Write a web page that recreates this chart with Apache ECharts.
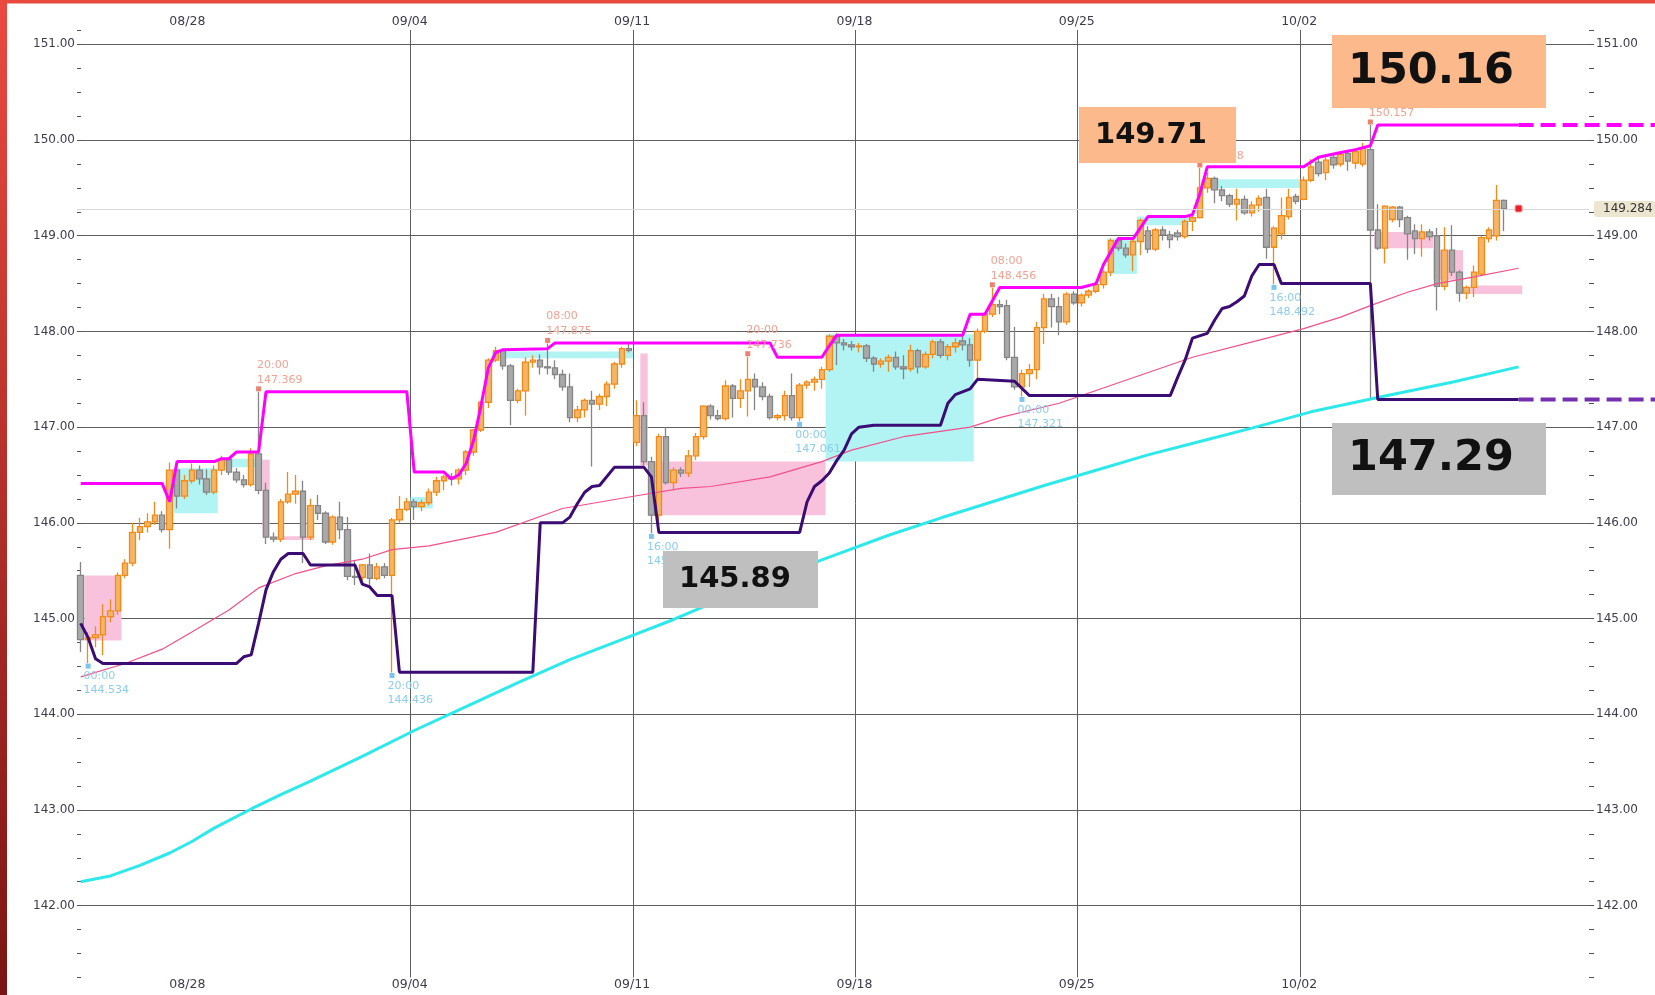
<!DOCTYPE html>
<html>
<head>
<meta charset="utf-8">
<title>USD/JPY 4時間足</title>
<script src="https://cdn.jsdelivr.net/npm/echarts@6.0.0/dist/echarts.min.js"></script>
<style>
  html, body { margin: 0; padding: 0; background: #fff; }
  #main { width: 1655px; height: 995px; }
</style>
</head>
<body>
<div id="main"></div>
<script>
// 4時間足 [始値, 終値, 安値, 高値]
const wk0823 = [
  [145.45, 144.78, 144.65, 145.59], [144.78, 144.80, 144.534, 144.86], [144.80, 144.83, 144.70, 144.92],
  [144.83, 145.02, 144.62, 145.15], [145.02, 145.08, 144.96, 145.20], [145.08, 145.45, 145.04, 145.48],
  [145.45, 145.58, 145.42, 145.62], [145.58, 145.90, 145.55, 146.00], [145.90, 145.96, 145.82, 146.05],
  [145.96, 146.01, 145.90, 146.10], [146.01, 146.08, 145.98, 146.22], [146.08, 145.93, 145.90, 146.12],
  [145.93, 146.55, 145.73, 146.63], [146.55, 146.28, 146.15, 146.58], [146.28, 146.44, 146.25, 146.50]
];
const wk0828 = [
  [146.44, 146.55, 146.41, 146.62], [146.55, 146.46, 146.40, 146.60], [146.46, 146.32, 146.29, 146.56],
  [146.32, 146.55, 146.30, 146.60], [146.55, 146.66, 146.50, 146.70], [146.66, 146.53, 146.50, 146.68],
  [146.53, 146.45, 146.42, 146.57], [146.45, 146.40, 146.37, 146.50], [146.40, 146.72, 146.38, 146.78],
  [146.72, 146.34, 146.30, 147.369], [146.34, 145.85, 145.78, 146.42], [145.85, 145.83, 145.80, 145.90],
  [145.83, 146.22, 145.80, 146.25], [146.22, 146.30, 146.20, 146.53], [146.30, 146.33, 146.20, 146.50],
  [146.33, 145.85, 145.58, 146.44], [145.85, 146.18, 145.82, 146.25], [146.18, 146.10, 146.03, 146.29],
  [146.10, 145.80, 145.78, 146.12], [145.80, 146.06, 145.77, 146.08], [146.06, 145.93, 145.83, 146.22],
  [145.93, 145.44, 145.40, 146.06], [145.44, 145.43, 145.35, 145.60], [145.43, 145.56, 145.40, 145.57],
  [145.56, 145.42, 145.33, 145.68], [145.42, 145.54, 145.40, 145.58], [145.54, 145.45, 145.42, 145.58],
  [145.45, 146.03, 144.436, 146.05], [146.03, 146.14, 146.00, 146.28], [146.14, 146.22, 146.12, 146.26]
];
const wk0904 = [
  [146.22, 146.17, 146.03, 146.25], [146.17, 146.21, 146.12, 146.24], [146.21, 146.32, 146.18, 146.36],
  [146.32, 146.44, 146.28, 146.48], [146.44, 146.48, 146.34, 146.50], [146.48, 146.46, 146.39, 146.52],
  [146.46, 146.55, 146.40, 146.57], [146.55, 146.74, 146.50, 146.76], [146.74, 146.97, 146.70, 146.98],
  [146.97, 147.26, 146.95, 147.27], [147.26, 147.70, 147.20, 147.72], [147.70, 147.80, 147.68, 147.84],
  [147.80, 147.64, 147.60, 147.82], [147.64, 147.28, 147.02, 147.66], [147.28, 147.38, 147.25, 147.40],
  [147.38, 147.68, 147.12, 147.73], [147.68, 147.70, 147.62, 147.75], [147.70, 147.63, 147.55, 147.76],
  [147.63, 147.62, 147.55, 147.875], [147.62, 147.55, 147.50, 147.70], [147.55, 147.42, 147.38, 147.60],
  [147.42, 147.10, 147.05, 147.56], [147.10, 147.18, 147.05, 147.22], [147.18, 147.28, 147.10, 147.30],
  [147.28, 147.24, 146.59, 147.38], [147.24, 147.32, 147.18, 147.35], [147.32, 147.45, 147.22, 147.48],
  [147.45, 147.66, 147.40, 147.68], [147.66, 147.82, 147.62, 147.84], [147.82, 147.80, 147.78, 147.87]
];
const wk0911 = [
  [146.84, 147.12, 146.80, 147.28], [147.12, 146.64, 146.60, 147.26], [146.64, 146.08, 145.89, 146.69],
  [146.08, 146.90, 145.98, 146.93], [146.90, 146.42, 146.40, 147.00], [146.42, 146.55, 146.34, 146.58],
  [146.55, 146.52, 146.48, 146.58], [146.52, 146.70, 146.48, 146.76], [146.70, 146.90, 146.66, 146.94],
  [146.90, 147.22, 146.87, 147.23], [147.22, 147.12, 147.08, 147.24], [147.12, 147.09, 147.07, 147.18],
  [147.09, 147.43, 147.07, 147.49], [147.43, 147.30, 147.10, 147.45], [147.30, 147.38, 147.20, 147.50],
  [147.38, 147.50, 147.11, 147.736], [147.50, 147.42, 147.18, 147.56], [147.42, 147.32, 147.28, 147.47],
  [147.32, 147.10, 147.08, 147.35], [147.10, 147.12, 147.07, 147.14], [147.12, 147.33, 147.07, 147.38],
  [147.33, 147.10, 147.07, 147.56], [147.10, 147.44, 147.061, 147.46], [147.44, 147.47, 147.40, 147.49],
  [147.47, 147.50, 147.38, 147.53], [147.50, 147.60, 147.40, 147.63], [147.60, 147.95, 147.58, 147.97],
  [147.95, 147.88, 147.65, 147.98], [147.88, 147.86, 147.80, 147.92], [147.86, 147.84, 147.80, 147.90]
];
const wk0918 = [
  [147.84, 147.85, 147.78, 147.88], [147.85, 147.72, 147.68, 147.87], [147.72, 147.66, 147.58, 147.74],
  [147.66, 147.69, 147.62, 147.72], [147.69, 147.73, 147.58, 147.76], [147.73, 147.63, 147.60, 147.79],
  [147.63, 147.61, 147.50, 147.75], [147.61, 147.80, 147.58, 147.86], [147.80, 147.63, 147.56, 147.82],
  [147.63, 147.76, 147.61, 147.79], [147.76, 147.89, 147.72, 147.91], [147.89, 147.75, 147.72, 147.92],
  [147.75, 147.84, 147.70, 147.87], [147.84, 147.88, 147.78, 147.93], [147.90, 147.86, 147.80, 147.95],
  [147.86, 147.70, 147.63, 147.93], [147.70, 148.00, 147.49, 148.03], [148.00, 148.18, 147.98, 148.20],
  [148.18, 148.28, 148.15, 148.456], [148.28, 148.26, 148.18, 148.33], [148.27, 147.73, 147.70, 148.33],
  [147.73, 147.42, 147.39, 148.05], [147.42, 147.56, 147.321, 147.60], [147.56, 147.60, 147.42, 147.66],
  [147.60, 148.04, 147.50, 148.10], [148.04, 148.34, 147.87, 148.39], [148.34, 148.26, 148.04, 148.39],
  [148.26, 148.10, 147.96, 148.36], [148.10, 148.39, 148.07, 148.41], [148.39, 148.30, 148.28, 148.42]
];
const wk0925 = [
  [148.30, 148.38, 148.26, 148.40], [148.38, 148.42, 148.35, 148.44], [148.42, 148.49, 148.40, 148.52],
  [148.49, 148.62, 148.45, 148.64], [148.62, 148.95, 148.58, 148.97], [148.95, 148.87, 148.84, 148.98],
  [148.87, 148.80, 148.77, 148.92], [148.80, 148.94, 148.63, 148.96], [148.94, 149.16, 148.80, 149.18],
  [149.05, 148.86, 148.82, 149.10], [148.86, 149.06, 148.84, 149.08], [149.06, 149.01, 148.95, 149.10],
  [149.01, 148.96, 148.87, 149.05], [149.03, 148.99, 148.95, 149.06], [148.99, 149.15, 148.97, 149.17],
  [149.15, 149.19, 149.05, 149.21], [149.19, 149.50, 149.18, 149.708], [149.50, 149.60, 149.45, 149.66],
  [149.60, 149.48, 149.34, 149.62], [149.48, 149.42, 149.36, 149.52], [149.42, 149.33, 149.30, 149.44],
  [149.33, 149.38, 149.16, 149.49], [149.38, 149.24, 149.22, 149.42], [149.24, 149.32, 149.20, 149.36],
  [149.32, 149.39, 149.25, 149.42], [149.40, 148.88, 148.76, 149.49], [148.88, 149.08, 148.492, 149.10],
  [149.02, 149.21, 148.96, 149.40], [149.20, 149.40, 149.17, 149.49], [149.41, 149.36, 149.33, 149.44]
];
const wk1002 = [
  [149.38, 149.58, 149.37, 149.62], [149.58, 149.72, 149.56, 149.80], [149.77, 149.65, 149.62, 149.82],
  [149.66, 149.79, 149.58, 149.82], [149.82, 149.74, 149.70, 149.86], [149.75, 149.85, 149.72, 149.88],
  [149.86, 149.78, 149.68, 149.88], [149.76, 149.88, 149.70, 149.91], [149.75, 149.92, 149.72, 149.97],
  [149.90, 149.06, 147.29, 150.157], [149.06, 148.87, 148.85, 149.33], [148.87, 149.31, 148.71, 149.32],
  [149.17, 149.30, 149.14, 149.31], [149.30, 149.17, 149.09, 149.31], [149.19, 149.02, 148.75, 149.21],
  [149.05, 148.97, 148.81, 149.12], [148.97, 149.04, 148.78, 149.12], [149.04, 148.99, 148.95, 149.07],
  [149.00, 148.47, 148.22, 149.08], [148.47, 148.85, 148.43, 149.09], [148.85, 148.62, 148.58, 149.11],
  [148.62, 148.40, 148.31, 148.64], [148.40, 148.46, 148.34, 148.48], [148.46, 148.62, 148.36, 148.69],
  [148.60, 148.98, 148.58, 149.00], [148.97, 149.06, 148.93, 149.09], [149.00, 149.37, 148.95, 149.53],
  [149.37, 149.284, 149.05, 149.38]
];

const weekLabels = ['08/28', '09/04', '09/11', '09/18', '09/25', '10/02'];
const weekStarts = [15, 45, 75, 105, 135, 165];

// 上値ライン・下値ライン・移動平均 [足番号, 値]
const upperLine = [
  [0, 146.41], [11, 146.41], [12, 146.22], [13, 146.64], [18, 146.64], [19, 146.67], [20, 146.67],
  [21, 146.74], [24, 146.74], [25, 147.37], [44, 147.37], [45, 146.53], [49, 146.53], [50, 146.46],
  [51, 146.50], [52, 146.62], [53, 146.86], [54, 147.22], [55, 147.62], [56, 147.78], [57, 147.81],
  [63, 147.82], [64, 147.88], [93, 147.88], [94, 147.73], [100, 147.73], [101, 147.85], [102, 147.96],
  [119, 147.96], [120, 148.18], [122, 148.18], [124, 148.46], [135, 148.46], [137, 148.50], [138, 148.70],
  [140, 148.97], [142, 148.97], [144, 149.20], [149, 149.20], [150, 149.22], [151, 149.44], [152, 149.72],
  [165, 149.72], [167, 149.82], [170, 149.87], [172, 149.90], [174, 149.94], [175, 150.157], [194, 150.157]
];
const lowerLine = [
  [0, 144.95], [1, 144.80], [2, 144.58], [3, 144.53], [21, 144.53], [22, 144.60], [23, 144.62],
  [24, 144.95], [25, 145.30], [26, 145.49], [27, 145.62], [28, 145.68], [30, 145.68], [31, 145.56],
  [37, 145.56], [38, 145.36], [39, 145.33], [40, 145.24], [42, 145.24], [43, 144.44], [61, 144.44],
  [62, 146.00], [65, 146.00], [66, 146.06], [67, 146.20], [68, 146.32], [69, 146.38], [70, 146.39],
  [72, 146.58], [76, 146.58], [77, 146.48], [78, 145.90], [97, 145.90], [98, 146.22], [99, 146.38],
  [100, 146.44], [101, 146.52], [102, 146.65], [103, 146.76], [104, 146.93], [105, 147.00], [107, 147.02],
  [116, 147.02], [117, 147.25], [118, 147.34], [120, 147.40], [121, 147.50], [126, 147.48], [128, 147.33],
  [147, 147.33], [148, 147.52], [149, 147.70], [150, 147.93], [152, 147.98], [153, 148.12], [154, 148.24],
  [155, 148.26], [156, 148.31], [157, 148.37], [158, 148.58], [159, 148.70], [161, 148.70], [162, 148.50],
  [174, 148.50], [175, 147.29], [194, 147.29]
];
const maLong = [
  [0, 142.25], [4, 142.31], [8, 142.42], [12, 142.55], [15, 142.67], [18, 142.81], [23, 143.01],
  [27, 143.16], [31, 143.30], [38, 143.56], [45, 143.83], [52, 144.08], [59, 144.33], [66, 144.57],
  [73, 144.78], [80, 144.99], [87, 145.22], [95, 145.47], [102, 145.67], [109, 145.87], [116, 146.05],
  [123, 146.22], [130, 146.39], [137, 146.55], [144, 146.71], [151, 146.85], [158, 146.99], [166, 147.16],
  [175, 147.31], [185, 147.47], [194, 147.63]
];
const maMid = [
  [0, 144.39], [6, 144.53], [11, 144.68], [15, 144.86], [20, 145.09], [24, 145.32], [29, 145.47],
  [33, 145.55], [38, 145.62], [42, 145.72], [47, 145.76], [56, 145.90], [65, 146.15], [74, 146.27],
  [81, 146.36], [85, 146.38], [93, 146.48], [100, 146.64], [104, 146.76], [111, 146.90], [120, 147.00],
  [124, 147.10], [132, 147.25], [141, 147.49], [150, 147.73], [159, 147.91], [165, 148.03], [170, 148.15],
  [174, 148.27], [179, 148.41], [183, 148.50], [188, 148.57], [194, 148.66]
];

// ボックス [開始足, 終了足, 上限, 下限]
const cyanBoxes = [
  [13, 18, 146.57, 146.10], [19, 24, 146.67, 146.58], [45, 47, 146.27, 146.15], [56, 74, 147.79, 147.72],
  [101, 120, 147.97, 146.64], [139, 142, 148.97, 148.60], [143, 149, 149.20, 149.11], [152, 164, 149.59, 149.50]
];
const pinkBoxes = [
  [1, 5, 145.45, 144.77], [25, 25, 146.66, 145.85], [27, 31, 145.86, 145.82], [36, 36, 145.82, 145.61],
  [76, 76, 147.77, 146.60], [78, 100, 146.64, 146.08], [175, 182, 149.04, 148.87], [183, 186, 148.85, 148.54],
  [188, 194, 148.48, 148.39]
];

const highIdx = [24, 63, 90, 123, 151, 174];
const lowIdx = [1, 42, 77, 97, 127, 161];

const candles = [].concat(wk0823, wk0828, wk0904, wk0911, wk0918, wk0925, wk1002);

// 4時間足の時刻 (土曜朝〜月曜朝は休場)
const p2 = n => String(n).padStart(2, '0');
const times = [];
for (let t = Date.UTC(2023, 7, 23, 20); times.length < 204; t += 4 * 3600e3) {
  const d = new Date(t), day = d.getUTCDay(), h = d.getUTCHours();
  if (day === 0 || (day === 6 && h > 4) || (day === 1 && h < 8)) continue;
  times.push(p2(d.getUTCMonth() + 1) + '/' + p2(d.getUTCDate()) + ' ' + p2(h) + ':00');
}

const FONT = 'DejaVu Sans';
const TXT = '#3c3c4e';
const GRID = '#5e5e5e';
const isWeek = idx => weekStarts.indexOf(idx) >= 0;

function xAxisDef(pos) {
  return {
    type: 'category', data: times, position: pos, boundaryGap: true,
    axisLine: { show: false }, axisTick: { show: false },
    axisLabel: {
      interval: isWeek, margin: pos === 'top' ? 2 : 1,
      formatter: (v, idx) => '{d|' + weekLabels[weekStarts.indexOf(idx)] + '}',
      rich: { d: { padding: [0, 9, 0, 0], fontFamily: FONT, fontSize: 12.5, color: TXT } }
    },
    splitLine: pos === 'top' ? { show: false } : {
      show: true, interval: isWeek, showMinLine: false, showMaxLine: false,
      lineStyle: { color: GRID, width: 1 }
    }
  };
}

function yAxisDef(pos) {
  return {
    type: 'value', position: pos, min: 141.25, max: 151.15, interval: 0.25,
    axisLine: { show: false },
    axisTick: { show: true, inside: pos === 'left', length: pos === 'left' ? 4 : 5, lineStyle: { color: '#555' } },
    axisLabel: {
      margin: pos === 'left' ? 2 : 7, fontFamily: FONT, fontSize: 12, color: TXT,
      formatter: v => (Math.abs(v - Math.round(v)) < 1e-6 ? v.toFixed(2) : '')
    },
    splitLine: pos === 'right' ? { show: false } : {
      show: true, lineStyle: { color: ['rgba(0,0,0,0)', 'rgba(0,0,0,0)', 'rgba(0,0,0,0)', GRID], width: 1 }
    }
  };
}

function boxSeries(list, color) {
  return {
    type: 'custom', data: list, z: 1, silent: true,
    encode: { x: [0, 1], y: [2, 3] },
    renderItem: (params, api) => {
      const bw = api.size([1, 0])[0];
      const a = api.coord([api.value(0), api.value(2)]);
      const b = api.coord([api.value(1), api.value(3)]);
      return { type: 'rect', shape: { x: a[0] - bw / 2, y: a[1], width: b[0] - a[0] + bw, height: b[1] - a[1] }, style: { fill: color } };
    }
  };
}

function lineSeries(data, color, width) {
  return { type: 'line', data: data, symbol: 'none', silent: true, z: 4, lineStyle: { color: color, width: width } };
}

const markLabel = (color, pos, lh) => ({
  show: true, position: pos, align: 'left', verticalAlign: 'top',
  fontFamily: FONT, fontSize: 11, lineHeight: lh, color: color
});

const hiPoints = highIdx.map(i => ({
  coord: [i, candles[i][3]], symbol: 'rect', symbolSize: 5, symbolOffset: [0, -3],
  itemStyle: { color: '#ec8270' },
  label: Object.assign(markLabel('#f2a293', [1, -29], 15), { formatter: times[i].slice(6) + '\n' + candles[i][3].toFixed(3) })
}));
const loPoints = lowIdx.map(i => ({
  coord: [i, candles[i][2]], symbol: 'rect', symbolSize: 5, symbolOffset: [0, 3],
  itemStyle: { color: '#7cc6ee' },
  label: Object.assign(markLabel('#8ccdee', [-2, 6], 14), { formatter: times[i].slice(6) + '\n' + candles[i][2].toFixed(3) })
}));
const lastClose = candles[candles.length - 1][1];
const maxHigh = Math.max(...candles.map(c => c[3]));

function callout(id, x, y, w, h, fill, text, size, tx) {
  return {
    id: id, type: 'group', x: x, y: y,
    children: [
      { type: 'rect', z: 100, shape: { x: 0, y: 0, width: w, height: h }, style: { fill: fill } },
      { type: 'text', z: 101, x: tx, y: h / 2, style: { text: text, font: 'bold ' + size + 'px "' + FONT + '"', fill: '#111', textAlign: 'left', textVerticalAlign: 'middle', align: 'left', verticalAlign: 'middle' } }
    ]
  };
}

const chart = echarts.init(document.getElementById('main'));
chart.setOption({
  animation: false,
  backgroundColor: '#fff',
  grid: { left: 77, right: 66, top: 30, bottom: 17.6 },
  xAxis: [xAxisDef('bottom'), xAxisDef('top')],
  yAxis: [yAxisDef('left'), yAxisDef('right')],
  series: [
    boxSeries(cyanBoxes, '#b2f4f4'),
    boxSeries(pinkBoxes, '#f8c2dc'),
    {
      type: 'candlestick', data: candles, barWidth: 6, z: 3,
      itemStyle: { color: '#f4b566', color0: '#a9a9a9', borderColor: '#f28a1a', borderColor0: '#858585', borderWidth: 1.3 },
      markLine: {
        silent: true, symbol: ['none', 'none'],
        lineStyle: { color: '#d8d8d8', width: 1, type: 'solid' },
        label: { position: 'end', distance: 5, formatter: lastClose.toFixed(3), backgroundColor: '#ece5cf', padding: [2, 4, 2, 9], borderRadius: 3, color: '#333', fontFamily: FONT, fontSize: 12 },
        data: [{ yAxis: lastClose }]
      },
      markPoint: {
        silent: true,
        data: hiPoints.concat(loPoints, [{
          coord: [194, lastClose], symbol: 'roundRect', symbolSize: 7,
          itemStyle: { color: '#e4222c', borderColor: '#ff9a9a', borderWidth: 1 }, label: { show: false }
        }])
      }
    },
    lineSeries(maMid, '#f0508c', 1.2),
    lineSeries(maLong, '#2ee9e9', 3),
    lineSeries(upperLine, '#ff00ff', 3),
    lineSeries(lowerLine, '#3a0c74', 3)
  ],
  graphic: [
    { id: 'frameLeft', type: 'rect', x: 0, y: 0, z: 100, shape: { width: 7, height: 995 }, style: { fill: new echarts.graphic.LinearGradient(0, 0, 0, 1, [{ offset: 0, color: '#ea4a40' }, { offset: 1, color: '#7a1414' }]) } },
    { id: 'frameTop', type: 'rect', x: 0, y: 0, z: 100, shape: { width: 1655, height: 3.5 }, style: { fill: '#e9493f' } },
    callout('boxHigh', 1332, 35, 214, 73, '#fbb98c', maxHigh.toFixed(2), 43, 16),
    callout('boxLow', 1332, 423, 214, 72, '#bfbfbf', lowerLine[lowerLine.length - 1][1].toFixed(2), 43, 16),
    callout('boxWeekHigh', 1079, 107, 157, 56, '#fbb98c', candles[151][3].toFixed(2), 29, 16),
    callout('boxWeekLow', 663, 551, 155, 57, '#bfbfbf', candles[77][2].toFixed(2), 29, 16)
  ]
});

// 右端の破線 (最新の上値・下値)
const xEnd = chart.convertToPixel({ xAxisIndex: 0 }, 194);
const yHi = chart.convertToPixel({ yAxisIndex: 0 }, upperLine[upperLine.length - 1][1]);
const yLo = chart.convertToPixel({ yAxisIndex: 0 }, lowerLine[lowerLine.length - 1][1]);
chart.setOption({
  graphic: [
    { id: 'dashHigh', type: 'line', z: 90, shape: { x1: xEnd, y1: yHi, x2: 1655, y2: yHi }, style: { stroke: '#ff00ff', lineWidth: 4, lineDash: [15, 7] } },
    { id: 'dashLow', type: 'line', z: 90, shape: { x1: xEnd, y1: yLo, x2: 1655, y2: yLo }, style: { stroke: '#7530b0', lineWidth: 4, lineDash: [15, 7] } }
  ]
});
</script>
</body>
</html>
